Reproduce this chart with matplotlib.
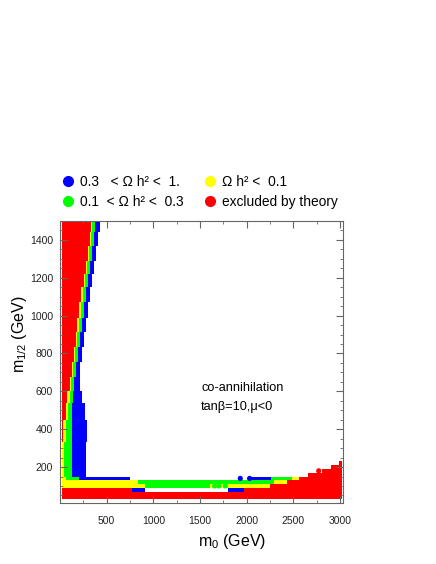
import numpy as np
import matplotlib
matplotlib.use('Agg')
import matplotlib.pyplot as plt
from matplotlib.lines import Line2D
from matplotlib.ticker import MultipleLocator

plt.rcParams['font.family'] = ['Liberation Sans', 'DejaVu Sans']
plt.rcParams['mathtext.fontset'] = 'custom'
plt.rcParams['mathtext.rm'] = 'Liberation Sans'
plt.rcParams['mathtext.it'] = 'Liberation Sans'
plt.rcParams['mathtext.default'] = 'rm'

colors = {'blue': '#0000ff', 'green': '#00ff00', 'yellow': '#ffff00', 'red': '#ff0000'}

# ── left vertical strip: blocks of m1/2, m0 where each class ends ──────────
M0_MIN = 20
strip_lo = [1440, 1370, 1290, 1220, 1150, 1070, 990, 915, 835, 755, 675, 600, 540, 450, 330, 150]
strip_hi = [1500, 1440, 1370, 1290, 1220, 1150, 1070, 990, 915, 835, 755, 675, 600, 540, 450, 330]
red_end  = [327, 317, 299, 277, 256, 229, 208, 187, 171, 149, 128, 107, 80, 64, 32, 20]
yel_end  = [342, 331, 315, 293, 272, 245, 224, 203, 187, 165, 144, 123, 107, 91, 64, 43]
grn_end  = [374, 363, 347, 325, 304, 277, 256, 235, 219, 197, 176, 155, 139, 128, 128, 128]
blu_end  = [424, 402, 384, 363, 342, 325, 304, 283, 261, 240, 219, 213, 235, 267, 285, 280]

# ── low m1/2 rows: horizontal segments (m1/2, m0 from, m0 to, class) ──────
seg_m12 = [140, 140, 140, 140, 140, 140, 140,
           160, 180, 200, 220,
           120, 120, 120, 120,
           100, 100, 100, 100,
           80, 80, 80, 80,
           60, 40]
seg_lo  = [20, 64, 203, 2050, 2260, 2480, 2560,
           2660, 2800, 2900, 2985,
           20, 835, 2290, 2430,
           20, 915, 1610, 2250,
           20, 770, 1795, 1970,
           20, 20]
seg_hi  = [64, 203, 745, 2260, 2480, 2560, 3015,
           3015, 3015, 3015, 3015,
           835, 2290, 2430, 3015,
           915, 1610, 2250, 3015,
           770, 905, 1970, 3015,
           3015, 3015]
seg_cls = ['yellow', 'green', 'blue', 'blue', 'green', 'yellow', 'red',
           'red', 'red', 'red', 'red',
           'yellow', 'green', 'yellow', 'red',
           'yellow', 'green', 'yellow', 'red',
           'red', 'blue', 'blue', 'red',
           'red', 'red']
ROW_H = 20

# isolated scan points
dot_m0  = [1930, 2030, 1655, 1700, 1770, 2770]
dot_m12 = [140, 140, 100, 100, 100, 180]
dot_cls = ['blue', 'blue', 'green', 'green', 'green', 'red']

legend_labels = ['0.3   < Ω h² <  1.', '0.1  < Ω h² <  0.3',
                 'Ω h² <  0.1', 'excluded by theory']
legend_cls = ['blue', 'green', 'yellow', 'red']

fig = plt.figure(figsize=(4.36, 5.64), dpi=100)
ax = fig.add_axes([60 / 436, 1 - 503 / 564, 283 / 436, 282 / 564])

lo = np.array(strip_lo); hi = np.array(strip_hi)
ymid = (lo + hi) / 2; hgt = hi - lo
edges = [np.full(len(lo), M0_MIN), red_end, yel_end, grn_end, blu_end]
for i, c in enumerate(['red', 'yellow', 'green', 'blue']):
    left = np.array(edges[i]); right = np.array(edges[i + 1])
    ax.barh(ymid, right - left, left=left, height=hgt, color=colors[c], lw=0)

ax.barh(seg_m12, np.array(seg_hi) - np.array(seg_lo), left=seg_lo, height=ROW_H,
        color=[colors[c] for c in seg_cls], lw=0)
ax.scatter(dot_m0, dot_m12, s=14, c=[colors[c] for c in dot_cls], lw=0)

ax.set_xlim(0, 3030)
ax.set_ylim(10, 1500)
ax.xaxis.set_major_locator(MultipleLocator(500))
ax.xaxis.set_minor_locator(MultipleLocator(250))
ax.yaxis.set_major_locator(MultipleLocator(200))
ax.yaxis.set_minor_locator(MultipleLocator(50))
ax.tick_params(which='both', direction='in', top=True, right=True, colors='#666666',
               labelcolor='#222222', labelsize=7.5)
ax.tick_params(which='major', length=5)
ax.tick_params(which='minor', length=2.5)
ax.tick_params(axis='x', pad=9)
ax.tick_params(axis='y', pad=5)
ax.set_xticks([500, 1000, 1500, 2000, 2500, 3000])
ax.set_yticks([200, 400, 600, 800, 1000, 1200, 1400])
for s in ax.spines.values():
    s.set_color('#666666')

ax.set_xlabel(r'm$_0$ (GeV)', fontsize=11.5)
ax.xaxis.set_label_coords(0.61, -0.103)
ax.set_ylabel(r'm$_{1/2}$ (GeV)', fontsize=11.5)
ax.yaxis.set_label_coords(-0.11, 0.6)

ax.text(1510, 618, 'co-annihilation', fontsize=9.2, va='center')
ax.text(1510, 517, 'tanβ=10,μ<0', fontsize=9.2, va='center')

handles = [Line2D([], [], marker='o', ls='', color=colors[c], markersize=7) for c in legend_cls]
fig.legend(handles, legend_labels, ncol=2, loc='upper left',
           bbox_to_anchor=(62.7 / 436, 1 - 175 / 564), frameon=False,
           fontsize=9.9, handlelength=0.8, handletextpad=0.45,
           columnspacing=1.55, labelspacing=0.45, borderpad=0, borderaxespad=0)

fig.savefig('out.png', dpi=100)
